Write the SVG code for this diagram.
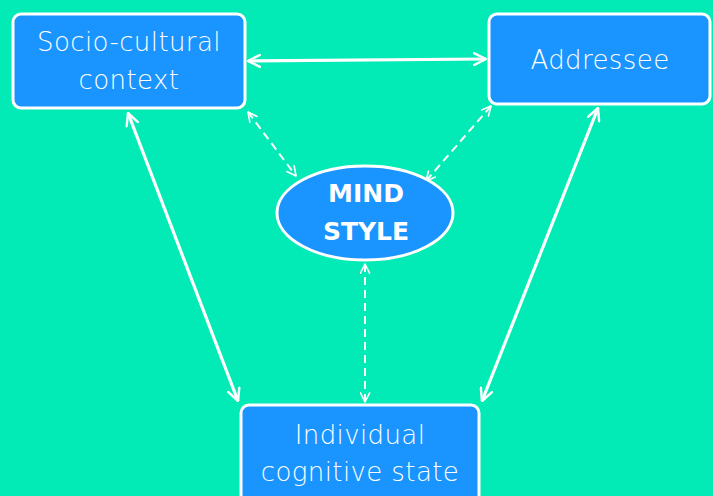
<svg xmlns="http://www.w3.org/2000/svg" width="713" height="496" viewBox="0 0 713 496">
<style>
.box{fill:#1a94ff;stroke:#fff;stroke-width:3}
.lbl{font-family:"DejaVu Sans","Open Sans",sans-serif;font-weight:200;font-size:26px;letter-spacing:0.4px;fill:#fff;text-anchor:middle}
.bold{font-weight:bold;font-size:25px;letter-spacing:0}
.solid{stroke:#fff;stroke-width:3.2;fill:none;marker-start:url(#ah);marker-end:url(#ah)}
.dash{stroke:#fff;stroke-width:2;fill:none;stroke-dasharray:8 5;marker-start:url(#ahs);marker-end:url(#ahs)}
</style>
<defs>
<marker id="ah" viewBox="0 0 12 12" refX="11" refY="6" markerWidth="4.5" markerHeight="4.5" orient="auto-start-reverse" markerUnits="strokeWidth">
<path d="M1,1 L11,6 L1,11" fill="none" stroke="#fff" stroke-width="2" stroke-linecap="round" stroke-linejoin="round"/>
</marker>
<marker id="ahs" viewBox="0 0 12 12" refX="11" refY="6" markerWidth="5.5" markerHeight="5.5" orient="auto-start-reverse" markerUnits="strokeWidth">
<path d="M1,1 L11,6 L1,11" fill="none" stroke="#fff" stroke-width="1.8" stroke-linecap="round" stroke-linejoin="round"/>
</marker>
</defs>
<rect width="713" height="496" fill="#02ebb6"/>
<g id="connectors">
<line class="solid" x1="248" y1="61" x2="486" y2="59"/>
<line class="solid" x1="128" y1="113" x2="238" y2="401"/>
<line class="solid" x1="598" y1="108" x2="482" y2="401"/>
<line class="dash" x1="248" y1="112" x2="296" y2="176"/>
<line class="dash" x1="491" y1="106" x2="426" y2="181"/>
<line class="dash" x1="365" y1="264" x2="365" y2="402"/>
</g>
<g id="socio">
<rect class="box" x="13" y="14" width="232" height="94" rx="8"/>
<text class="lbl" x="129" y="51">Socio-cultural</text>
<text class="lbl" x="129" y="89">context</text>
</g>
<g id="addressee">
<rect class="box" x="489" y="14" width="221" height="90" rx="8"/>
<text class="lbl" x="600" y="69">Addressee</text>
</g>
<g id="mindstyle">
<ellipse class="box" cx="365" cy="213" rx="88" ry="47"/>
<text class="lbl bold" x="366" y="202">MIND</text>
<text class="lbl bold" x="366" y="240">STYLE</text>
</g>
<g id="individual">
<rect class="box" x="241" y="405" width="238" height="100" rx="8"/>
<text class="lbl" x="360" y="444">Individual</text>
<text class="lbl" x="360" y="481">cognitive state</text>
</g>
</svg>
